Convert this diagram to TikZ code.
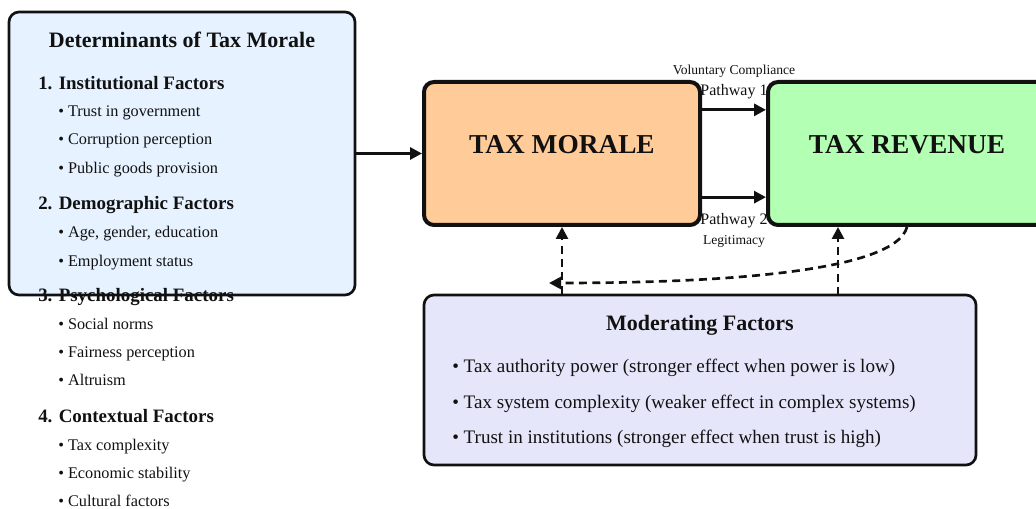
\documentclass[tikz,border=0pt]{standalone}
\usepackage{fontspec}
\setmainfont{Liberation Serif}
\usetikzlibrary{arrows.meta,calc}
\definecolor{detfill}{HTML}{E6F2FF}
\definecolor{morfill}{HTML}{FFCC99}
\definecolor{revfill}{HTML}{B3FFB3}
\definecolor{modfill}{HTML}{E6E6FA}
\definecolor{ink}{HTML}{111111}
\tikzset{
  panel/.style={draw=ink, rounded corners=7.5pt, line width=2pt, inner sep=0pt},
  bigbox/.style={draw=ink, rounded corners=7.5pt, line width=3pt, inner sep=0pt},
  ttl/.style={font=\fontsize{16.5}{19}\selectfont\bfseries, text=ink, anchor=base},
  head/.style={font=\fontsize{14.2}{16}\selectfont\bfseries, text=ink, anchor=base west, inner sep=0pt},
  item/.style={font=\fontsize{12.2}{14}\selectfont, text=ink, anchor=base west, inner sep=0pt},
  mitem/.style={font=\fontsize{14.3}{16}\selectfont, text=ink, anchor=base west, inner sep=0pt},
  small/.style={font=\fontsize{10.2}{12}\selectfont, text=ink, anchor=base, inner sep=0pt},
  pathlbl/.style={font=\fontsize{12}{14}\selectfont, text=ink, anchor=base, inner sep=0pt},
  bigt/.style={font=\fontsize{20.5}{24}\selectfont\bfseries, text=ink},
  arr/.style={draw=ink, line width=2.2pt, -{Triangle[length=9pt,width=9pt]}},
  darr/.style={draw=ink, line width=2pt, dash pattern=on 6pt off 4pt, -{Triangle[length=9pt,width=9pt]}},
}
\begin{document}
\begin{tikzpicture}[x=0.75pt,y=-0.75pt]
\useasboundingbox (0,0) rectangle (1036,509);
% boxes
\node[panel, fill=detfill, minimum width=259.5pt, minimum height=212.25pt] (det) at (182,153.5) {};
\node[bigbox, fill=morfill, minimum width=207pt, minimum height=107.25pt] (mor) at (562,153.5) {};
\node[bigbox, fill=revfill, minimum width=208.5pt, minimum height=107.25pt] (rev) at (907,153.5) {};
\node[panel, fill=modfill, minimum width=414pt, minimum height=127.5pt] (mod) at (700,380) {};
% box titles
\node[bigt] (mort) at (562,145) {TAX MORALE};
\node[bigt] (revt) at (907,145) {TAX REVENUE};
% determinants text
\node[ttl] (dt) at (182,48) {Determinants of Tax Morale};
\node[head] (h1) at (38,90) {1. Institutional Factors};
\node[item] (a1) at (58,117) {• Trust in government};
\node[item] (a2) at (58,145) {• Corruption perception};
\node[item] (a3) at (58,174) {• Public goods provision};
\node[head] (h2) at (38,210) {2. Demographic Factors};
\node[item] (b1) at (58,238) {• Age, gender, education};
\node[item] (b2) at (58,267) {• Employment status};
\node[head] (h3) at (38,302) {3. Psychological Factors};
\node[item] (c1) at (58,330) {• Social norms};
\node[item] (c2) at (58,358) {• Fairness perception};
\node[item] (c3) at (58,386) {• Altruism};
\node[head] (h4) at (38,423) {4. Contextual Factors};
\node[item] (d1) at (58,451) {• Tax complexity};
\node[item] (d2) at (58,479) {• Economic stability};
\node[item] (d3) at (58,507) {• Cultural factors};
% moderating text
\node[ttl] (mt) at (700,331) {Moderating Factors};
\node[mitem] (m1) at (452,373) {• Tax authority power (stronger effect when power is low)};
\node[mitem] (m2) at (452,409) {• Tax system complexity (weaker effect in complex systems)};
\node[mitem] (m3) at (452,444) {• Trust in institutions (stronger effect when trust is high)};
% pathway labels
\node[small] (vc) at (734,75) {Voluntary Compliance};
\node[pathlbl] (p1) at (734,96) {Pathway 1};
\node[pathlbl] (p2) at (734,225) {Pathway 2};
\node[small] (lg) at (734,245) {Legitimacy};
% connectors
\draw[arr] (det.east) -- (mor.west);
\draw[arr] ($(mor.north east)!0.203!(mor.south east)$) -- ($(rev.north west)!0.203!(rev.south west)$);
\draw[arr] ($(mor.north east)!0.797!(mor.south east)$) -- ($(rev.north west)!0.797!(rev.south west)$);
\coordinate (mq) at (838,295);
\coordinate (ce) at (549,283);
\draw[darr] (mor.south |- mod.north) -- (mor.south);
\draw[darr] (mq) -- (mq |- rev.south);
\draw[darr] (rev.south) .. controls (895,272) and (720,283) .. (ce);
\end{tikzpicture}
\end{document}
